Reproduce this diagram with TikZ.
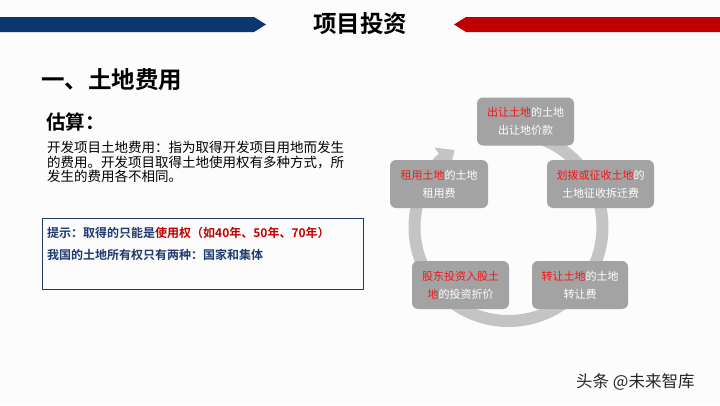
\documentclass[tikz,border=0pt]{standalone}
\usepackage{fontspec}
\setmainfont{Noto Sans CJK SC}[BoldFont={Noto Sans CJK SC Bold}]
\usetikzlibrary{arrows.meta}
\definecolor{barblue}{HTML}{0B3670}
\definecolor{barred}{HTML}{C00000}
\definecolor{tred}{HTML}{F01818}
\definecolor{hintred}{HTML}{C00000}
\definecolor{hintnavy}{HTML}{1F3A6E}
\definecolor{boxgray}{HTML}{A3A3A3}
\definecolor{ringgray}{HTML}{C4C4C4}
\definecolor{bg}{HTML}{FCFCFC}
\tikzset{
  cbox/.style={fill=boxgray, rounded corners=6pt, minimum width=97pt, minimum height=48pt,
    inner sep=0pt, align=center, text=white, font=\fontsize{11}{18}\selectfont},
  ring/.style={draw=ringgray, line width=12pt, -{Triangle[width=26pt,length=15pt]}},
  bar/.style={draw=none},
}
\begin{document}
\begin{tikzpicture}[x=1pt,y=1pt]
\fill[bg] (0,0) rectangle (720,-405);
\useasboundingbox (0,0) rectangle (720,-405);
% top bars
\fill[barblue] (0,-17) -- (254,-17) -- (266,-24.5) -- (254,-32) -- (0,-32) -- cycle;
\fill[barred] (720,-17) -- (466,-17) -- (454,-24.5) -- (466,-32) -- (720,-32) -- cycle;
\node[font=\bfseries\fontsize{23.5}{26}\selectfont] (title) at (360,-24) {项目投资};
% left texts
\node[anchor=west, inner sep=0pt, font=\bfseries\fontsize{23.5}{26}\selectfont] (h1) at (41,-80) {一、土地费用};
\node[anchor=west, inner sep=0pt, font=\bfseries\fontsize{19.5}{22}\selectfont] (h2) at (46,-122) {估算：};
\node[anchor=north west, inner sep=0pt, align=left, font=\fontsize{13.5}{14.5}\selectfont] (body) at (47,-141)
  {开发项目土地费用：指为取得开发项目用地而发生\\的费用。开发项目取得土地使用权有多种方式，所\\发生的费用各不相同。};
% hint box
\node[draw=hintnavy, line width=0.9pt, minimum width=321pt, minimum height=71pt, inner sep=0pt, anchor=north west] (hint) at (42,-218) {};
\node[anchor=west, inner sep=0pt, font=\bfseries\fontsize{12}{14}\selectfont, text=hintnavy] (hint1) at (47,-233)
  {提示：取得的只能是\textcolor{hintred}{使用权（如40年、50年、70年）}};
\node[anchor=west, inner sep=0pt, font=\bfseries\fontsize{12}{14}\selectfont, text=hintnavy] (hint2) at (47,-255)
  {我国的土地所有权只有两种：国家和集体};
% cycle
\coordinate (c) at (508.5,-227);
\draw[ring] (c) ++(80:94) arc[start angle=80, end angle=-235, radius=94];
\node[cbox] (b1) at (525.5,-121.5) {\textcolor{tred}{出让土地}的土地\\出让地价款};
\node[cbox, minimum width=107pt] (b2) at (600.5,-184) {\textcolor{tred}{划拨或征收土地}的\\土地征收拆迁费};
\node[cbox, minimum width=98pt] (b5) at (439,-184) {\textcolor{tred}{租用土地}的土地\\租用费};
\node[cbox] (b4) at (460.5,-285) {\textcolor{tred}{股东投资入股土}\\\textcolor{tred}{地}的投资折价};
\node[cbox, minimum width=96pt] (b3) at (580,-285) {\textcolor{tred}{转让土地}的土地\\转让费};
% watermark
\node[anchor=west, inner sep=0pt, text=black!85, font=\fontsize{16.5}{18}\selectfont] (wm) at (576,-382) {头条 @未来智库};
\end{tikzpicture}
\end{document}
